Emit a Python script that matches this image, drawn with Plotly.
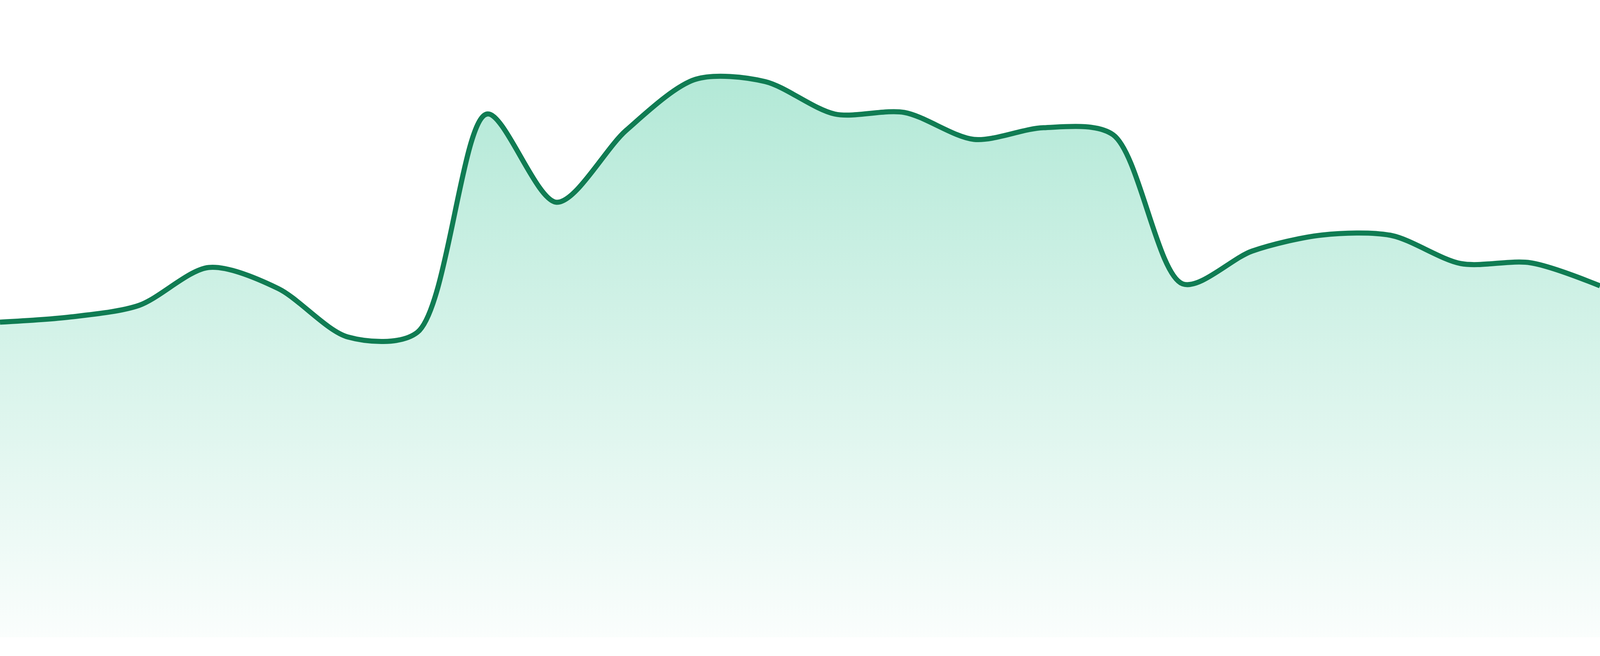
import plotly.graph_objects as go

# 24 evenly spaced samples
steps = list(range(24))
values = [80.7, 82.0, 85.0, 94.7, 89.3, 76.9, 78.1, 134.0,
          111.4, 129.8, 142.9, 142.3, 134.0, 134.4, 127.5, 130.5,
          128.7, 90.5, 98.9, 103.0, 102.9, 95.7, 95.9, 90.0]

y_top = 163.2

fig = go.Figure()
fig.add_trace(go.Scatter(
    x=steps, y=values,
    mode='lines',
    line=dict(color='#107c53', width=13, shape='spline', smoothing=0.85),
    fill='tozeroy',
    fillgradient=dict(
        type='vertical',
        start=0, stop=y_top,
        colorscale=[[0, 'rgba(16,185,129,0.02)'], [1, 'rgba(16,185,129,0.36)']],
    ),
    hoverinfo='skip',
))

fig.update_layout(
    width=4800, height=1680,
    margin=dict(l=0, r=0, t=0, b=48),
    paper_bgcolor='white', plot_bgcolor='white',
    showlegend=False,
    xaxis=dict(range=[0, 23], visible=False, fixedrange=True),
    yaxis=dict(range=[0, y_top], visible=False, fixedrange=True),
)

# the browser window can be narrower than 4800 css px, so fit the
# figure to the real window size edge to edge
fit_js = """
document.body.style.margin = '0';
document.body.style.overflow = 'hidden';
var gd = document.getElementById('{plot_id}');
var w = window.innerWidth, h = window.innerHeight;
Plotly.relayout(gd, {width: w, height: h, 'margin.b': 48 * h / 1680});
"""

fig.write_html("out.html", config={'displayModeBar': False}, post_script=fit_js)
